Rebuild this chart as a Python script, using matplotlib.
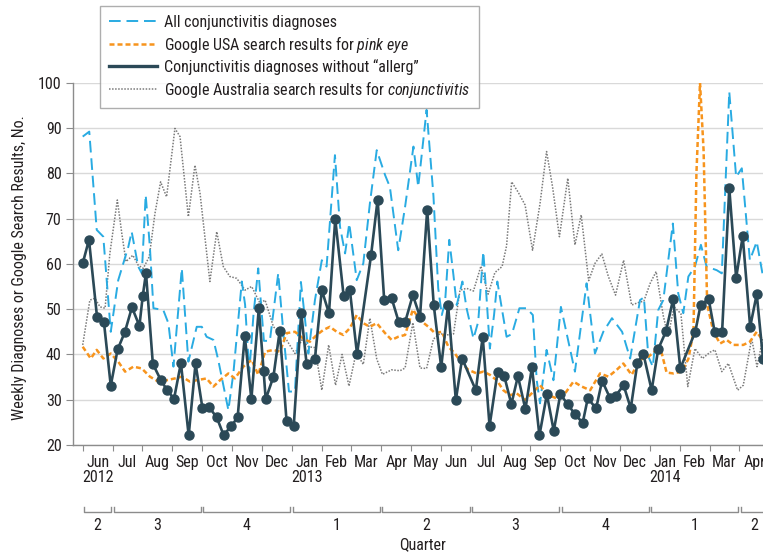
import matplotlib
matplotlib.use("Agg")
import matplotlib.pyplot as plt
from matplotlib import font_manager
from matplotlib.lines import Line2D
import numpy as np

# ---------------- data (x = months since 1 June 2012) ----------------
dark_x = [0.00, 0.21, 0.48, 0.71, 0.94, 1.17, 1.41, 1.65, 1.90, 2.01,
          2.12, 2.35, 2.62, 2.82, 3.06, 3.29, 3.55, 3.78, 4.01, 4.24,
          4.49, 4.72, 4.98, 5.19, 5.43, 5.65, 5.90, 6.06, 6.13, 6.39,
          6.60, 6.83, 7.07, 7.32, 7.50, 7.78, 8.01, 8.25, 8.46, 8.74,
          8.95, 9.19, 9.66, 9.88, 10.10, 10.35, 10.59, 10.80, 11.06, 11.30,
          11.54, 11.76, 12.01, 12.24, 12.50, 12.71, 13.17, 13.40, 13.63, 13.90,
          14.12, 14.36, 14.58, 14.83, 15.05, 15.30, 15.55, 15.78, 16.00, 16.25,
          16.49, 16.75, 16.92, 17.20, 17.40, 17.67, 17.86, 18.12, 18.36, 18.58,
          18.78, 19.06, 19.28, 19.54, 19.78, 20.02, 20.52, 20.70, 20.97, 21.17,
          21.42, 21.66, 21.89, 22.11, 22.36, 22.58, 22.79]
dark_y = [60.1, 65.3, 48.3, 47.2, 33.1, 41.1, 44.9, 50.4, 46.3, 52.8,
          58.0, 37.9, 34.3, 32.2, 30.2, 38.1, 22.1, 38.0, 28.2, 28.3,
          26.1, 22.2, 24.2, 26.1, 44.1, 30.1, 50.2, 36.4, 30.1, 35.1,
          45.2, 25.2, 24.2, 49.2, 37.9, 39.1, 54.2, 49.1, 69.9, 53.0,
          54.2, 40.1, 61.9, 74.2, 52.0, 52.4, 47.1, 47.1, 53.1, 48.3,
          71.9, 50.9, 37.2, 50.9, 29.9, 39.1, 32.1, 43.9, 24.2, 36.2,
          35.3, 29.0, 35.2, 27.9, 37.2, 22.1, 31.2, 23.1, 31.2, 29.0,
          26.8, 24.9, 30.3, 28.1, 34.2, 30.3, 30.9, 33.2, 28.1, 38.0,
          40.2, 32.1, 41.2, 45.1, 52.2, 36.9, 45.0, 50.9, 52.2, 45.0,
          45.0, 76.7, 56.9, 66.1, 46.1, 53.3, 39.1]

blue_x = [0.00, 0.22, 0.47, 0.69, 0.94, 1.19, 1.53, 1.64, 1.86, 1.98,
          2.11, 2.25, 2.37, 2.70, 2.87, 3.04, 3.32, 3.54, 3.82, 3.99,
          4.15, 4.38, 4.54, 4.88, 5.05, 5.33, 5.44, 5.58, 5.72, 5.88,
          6.07, 6.27, 6.55, 6.74, 6.91, 7.11, 7.31, 7.45, 7.56, 7.78,
          8.01, 8.17, 8.45, 8.62, 8.79, 8.93, 9.18, 9.40, 9.62, 9.85,
          10.13, 10.29, 10.57, 10.80, 11.08, 11.24, 11.52, 11.75, 11.91, 12.03,
          12.14, 12.28, 12.42, 12.53, 12.72, 12.86, 13.09, 13.25, 13.42, 13.53,
          13.64, 13.78, 13.89, 14.04, 14.20, 14.38, 14.63, 14.87, 15.08, 15.21,
          15.32, 15.54, 15.77, 16.02, 16.21, 16.49, 16.88, 17.16, 17.44, 17.73,
          18.07, 18.34, 18.67, 18.80, 18.95, 19.10, 19.28, 19.45, 19.77, 19.95,
          20.12, 20.29, 20.51, 20.71, 20.90, 21.24, 21.41, 21.66, 21.89, 22.08,
          22.35, 22.58, 22.79]
blue_y = [88.1, 89.2, 67.5, 66.0, 45.0, 56.4, 63.8, 67.1, 59.4, 57.9,
          75.2, 63.8, 50.2, 49.8, 46.9, 37.3, 59.0, 38.4, 46.1, 46.1,
          43.9, 43.2, 38.8, 27.7, 36.0, 56.1, 51.0, 36.0, 48.7, 59.0,
          43.0, 43.0, 57.9, 43.5, 31.8, 31.8, 56.0, 47.6, 40.2, 52.0,
          60.8, 59.4, 84.0, 68.2, 62.3, 68.9, 56.4, 60.1, 73.3, 85.1,
          79.6, 77.0, 63.0, 72.6, 85.9, 77.0, 94.0, 75.0, 54.6, 48.7,
          51.6, 65.3, 57.5, 50.9, 56.1, 50.2, 43.5, 47.2, 62.7, 52.4,
          41.3, 48.7, 56.1, 50.2, 43.9, 44.5, 50.2, 50.2, 48.7, 34.3,
          29.2, 41.0, 34.3, 50.5, 44.7, 36.2, 55.7, 40.2, 45.0, 48.0,
          45.0, 39.1, 52.0, 52.6, 39.5, 37.3, 49.8, 52.0, 68.9, 53.5,
          49.1, 57.2, 59.4, 64.2, 59.4, 58.6, 57.9, 98.0, 79.2, 81.1,
          60.8, 64.9, 57.2]

orange_x = [0.00, 0.27, 0.47, 0.69, 0.94, 1.19, 1.42, 1.70, 1.98, 2.25,
            2.53, 2.81, 3.09, 3.32, 3.59, 3.82, 4.15, 4.38, 4.60, 4.88,
            5.10, 5.38, 5.66, 5.88, 6.11, 6.39, 6.61, 6.83, 7.11, 7.39,
            7.61, 7.84, 8.06, 8.28, 8.51, 8.73, 8.95, 9.18, 9.40, 9.62,
            9.85, 10.13, 10.35, 10.57, 10.80, 11.06, 11.30, 11.58, 11.80, 12.03,
            12.25, 12.47, 12.70, 12.92, 13.20, 13.42, 13.64, 13.87, 14.09, 14.31,
            14.54, 14.82, 15.04, 15.32, 15.60, 15.88, 16.16, 16.44, 16.72, 17.00,
            17.33, 17.61, 17.89, 18.11, 18.39, 18.67, 18.95, 19.23, 19.40, 19.56,
            19.79, 20.07, 20.29, 20.46, 20.56, 20.68, 20.80, 20.92, 21.13, 21.35,
            21.57, 21.80, 22.13, 22.35, 22.58, 22.79]
orange_y = [41.7, 39.1, 41.0, 39.1, 40.2, 38.4, 36.2, 37.3, 36.9, 35.1,
            34.0, 34.3, 34.7, 35.1, 34.0, 34.3, 34.7, 32.9, 34.3, 35.8,
            34.7, 37.3, 38.8, 35.5, 40.6, 41.0, 40.6, 44.7, 45.0, 43.5,
            42.8, 44.3, 45.4, 46.1, 45.0, 44.3, 45.8, 48.7, 46.9, 46.1,
            46.9, 44.7, 43.2, 43.9, 44.3, 49.9, 47.6, 46.1, 44.7, 45.0,
            41.7, 40.2, 38.0, 36.6, 35.8, 36.2, 35.5, 34.3, 32.1, 31.0,
            31.4, 29.9, 31.4, 33.2, 31.0, 30.3, 31.4, 34.0, 32.9, 32.1,
            35.8, 35.1, 36.6, 38.0, 35.5, 38.8, 39.5, 41.0, 40.2, 36.0,
            35.8, 36.2, 39.0, 45.0, 80.0, 100.0, 85.0, 51.0, 45.0, 42.4,
            43.2, 42.1, 42.1, 42.8, 45.0, 43.0]

gray_x = [0.00, 0.24, 0.41, 0.58, 0.75, 0.91, 1.16, 1.31, 1.45, 1.68,
          1.86, 2.03, 2.23, 2.42, 2.61, 2.81, 3.09, 3.26, 3.54, 3.76,
          3.93, 4.26, 4.49, 4.71, 4.93, 5.16, 5.44, 5.66, 5.94, 6.11,
          6.39, 6.61, 6.83, 7.11, 7.34, 7.56, 7.78, 8.01, 8.24, 8.47,
          8.69, 8.92, 9.16, 9.40, 9.62, 9.85, 10.04, 10.35, 10.63, 10.80,
          11.06, 11.30, 11.52, 11.75, 11.97, 12.19, 12.42, 12.64, 12.86, 13.09,
          13.34, 13.58, 13.81, 14.05, 14.20, 14.37, 14.59, 14.82, 15.07, 15.32,
          15.54, 15.74, 15.97, 16.25, 16.49, 16.70, 16.95, 17.16, 17.39, 17.61,
          17.85, 18.12, 18.39, 18.59, 18.80, 19.01, 19.21, 19.45, 19.61, 19.81,
          20.04, 20.27, 20.51, 20.76, 21.02, 21.18, 21.41, 21.63, 21.94, 22.13,
          22.41, 22.59, 22.79]
gray_y = [42.1, 52.0, 52.4, 50.5, 50.2, 62.3, 74.1, 66.7, 60.5, 61.9,
          59.7, 59.0, 61.6, 71.1, 78.1, 74.8, 89.9, 88.1, 70.4, 81.8,
          75.6, 56.1, 67.1, 59.4, 57.2, 56.8, 54.2, 55.0, 51.3, 52.0,
          46.1, 44.7, 43.2, 40.2, 43.2, 41.7, 41.5, 32.1, 42.1, 33.2,
          40.0, 33.0, 40.4, 37.8, 48.0, 39.0, 35.6, 36.6, 36.4, 37.0,
          47.0, 37.0, 36.9, 43.4, 44.6, 44.3, 44.5, 54.2, 54.6, 54.0,
          59.5, 53.3, 58.1, 59.4, 64.0, 78.1, 75.8, 73.0, 63.0, 73.3,
          84.8, 77.0, 66.0, 78.9, 64.2, 70.8, 56.3, 60.1, 62.2, 57.2,
          53.1, 60.8, 50.9, 51.4, 51.8, 55.7, 58.3, 48.5, 44.0, 50.5,
          49.0, 32.9, 41.3, 39.1, 40.5, 41.0, 36.2, 38.0, 32.1, 33.2,
          43.5, 37.3, 43.7]

month_labels = ["Jun\n2012", "Jul", "Aug", "Sep", "Oct", "Nov", "Dec",
                "Jan\n2013", "Feb", "Mar", "Apr", "May", "Jun", "Jul", "Aug",
                "Sep", "Oct", "Nov", "Dec", "Jan\n2014", "Feb", "Mar", "Apr"]
quarter_labels = ["2", "3", "4", "1", "2", "3", "4", "1", "2"]
quarter_start = [0, 1, 4, 7, 10, 13, 16, 19, 22]
quarter_end = [1, 4, 7, 10, 13, 16, 19, 22, 23]
y_ticks = [20, 30, 40, 50, 60, 70, 80, 90, 100]

series_labels = ["All conjunctivitis diagnoses",
                 "Google USA search results for $\\mathit{pink\\ eye}$",
                 "Conjunctivitis diagnoses without \u201callerg\u201d",
                 "Google Australia search results for $\\mathit{conjunctivitis}$"]

# ---------------- fonts ----------------
names = {f.name for f in font_manager.fontManager.ttflist}
fam = None
for cand in ["Liberation Sans Narrow", "Roboto Condensed", "Open Sans Condensed"]:
    if cand in names:
        fam = cand
        break
if fam is None:
    fam = "DejaVu Sans"
    plt.rcParams["font.stretch"] = "condensed"
plt.rcParams["font.family"] = [fam, "DejaVu Sans"]
plt.rcParams["mathtext.fontset"] = "custom"
plt.rcParams["mathtext.rm"] = fam
plt.rcParams["mathtext.it"] = fam + ":italic"

TXT = "#231f20"
BLUE = "#29abe2"
ORANGE = "#f7941d"
DARK = "#2b4957"
GRAY = "#7a7a7a"
AXC = "#8c8c8c"
FS = 11.5

W, H = 763, 557
fig = plt.figure(figsize=(W / 100, H / 100), dpi=100)
ax = fig.add_axes([72.7 / W, 1 - 445 / H, (W - 72.7) / W, 362.3 / H])

ax.plot(gray_x, gray_y, color=GRAY, lw=1.1, ls=(0, (1, 1)), zorder=2)
ax.plot(blue_x, blue_y, color=BLUE, lw=1.4, ls=(0, (6, 3)), zorder=3)
ax.plot(orange_x, orange_y, color=ORANGE, lw=1.8, ls=(0, (2, 1.2)), zorder=4)
ax.plot(dark_x, dark_y, color=DARK, lw=1.9, marker="o", ms=6.5, zorder=5)

ax.set_ylim(20, 100)
ax.set_xlim(-0.335, 22.79)
ax.set_yticks(y_ticks)
ax.set_yticklabels([str(v) for v in y_ticks], fontsize=FS, color=TXT)
ax.yaxis.grid(True, color="#d9d9d9", lw=1.0, zorder=0)
ax.set_axisbelow(True)

ax.set_xticks(np.arange(0, 23))
ax.set_xticklabels([])
ax.set_xticks(np.arange(0.5, 23), minor=True)
ax.set_xticklabels(month_labels, minor=True, fontsize=FS, color=TXT, linespacing=1.05)
ax.tick_params(axis="x", which="major", length=4, color=AXC, direction="out")
ax.tick_params(axis="x", which="minor", length=0, pad=7)
ax.tick_params(axis="y", length=5, color=AXC, pad=3)

for s in ["top", "right"]:
    ax.spines[s].set_visible(False)
for s in ["left", "bottom"]:
    ax.spines[s].set_color(AXC)
    ax.spines[s].set_linewidth(1.0)

ax.set_ylabel("Weekly Diagnoses or Google Search Results, No.", fontsize=FS, color=TXT)
ax.yaxis.set_label_coords(-0.066, 0.49)

# quarter brackets
tr = ax.get_xaxis_transform()
gap = 0.04
for q, s, e in zip(quarter_labels, quarter_start, quarter_end):
    ax.plot([s + gap, s + gap, e - gap, e - gap], [-0.170, -0.184, -0.184, -0.170],
            transform=tr, clip_on=False, color=AXC, lw=1.0)
    ax.text((s + e) / 2, -0.221, q, transform=tr, ha="center", va="center",
            fontsize=FS, color=TXT)
ax.text(11.37, -0.276, "Quarter", transform=tr, ha="center", va="center",
        fontsize=FS, color=TXT)

handles = [Line2D([], [], color=BLUE, lw=1.4, ls=(0, (6, 3))),
           Line2D([], [], color=ORANGE, lw=1.8, ls=(0, (2, 1.2))),
           Line2D([], [], color=DARK, lw=2.4),
           Line2D([], [], color=GRAY, lw=1.1, ls=(0, (1, 1)))]
leg = fig.legend(handles, series_labels, loc="upper left",
                 bbox_to_anchor=(100 / W, 1 - 6 / H), bbox_transform=fig.transFigure,
                 fontsize=FS, frameon=True, fancybox=False, borderaxespad=0,
                 handlelength=3.0, handletextpad=0.45, labelspacing=0.25,
                 borderpad=0.55)
leg.get_frame().set_edgecolor("#9a9a9a")
leg.get_frame().set_linewidth(1.0)
for t in leg.get_texts():
    t.set_color(TXT)

fig.savefig("out.png", dpi=100)
